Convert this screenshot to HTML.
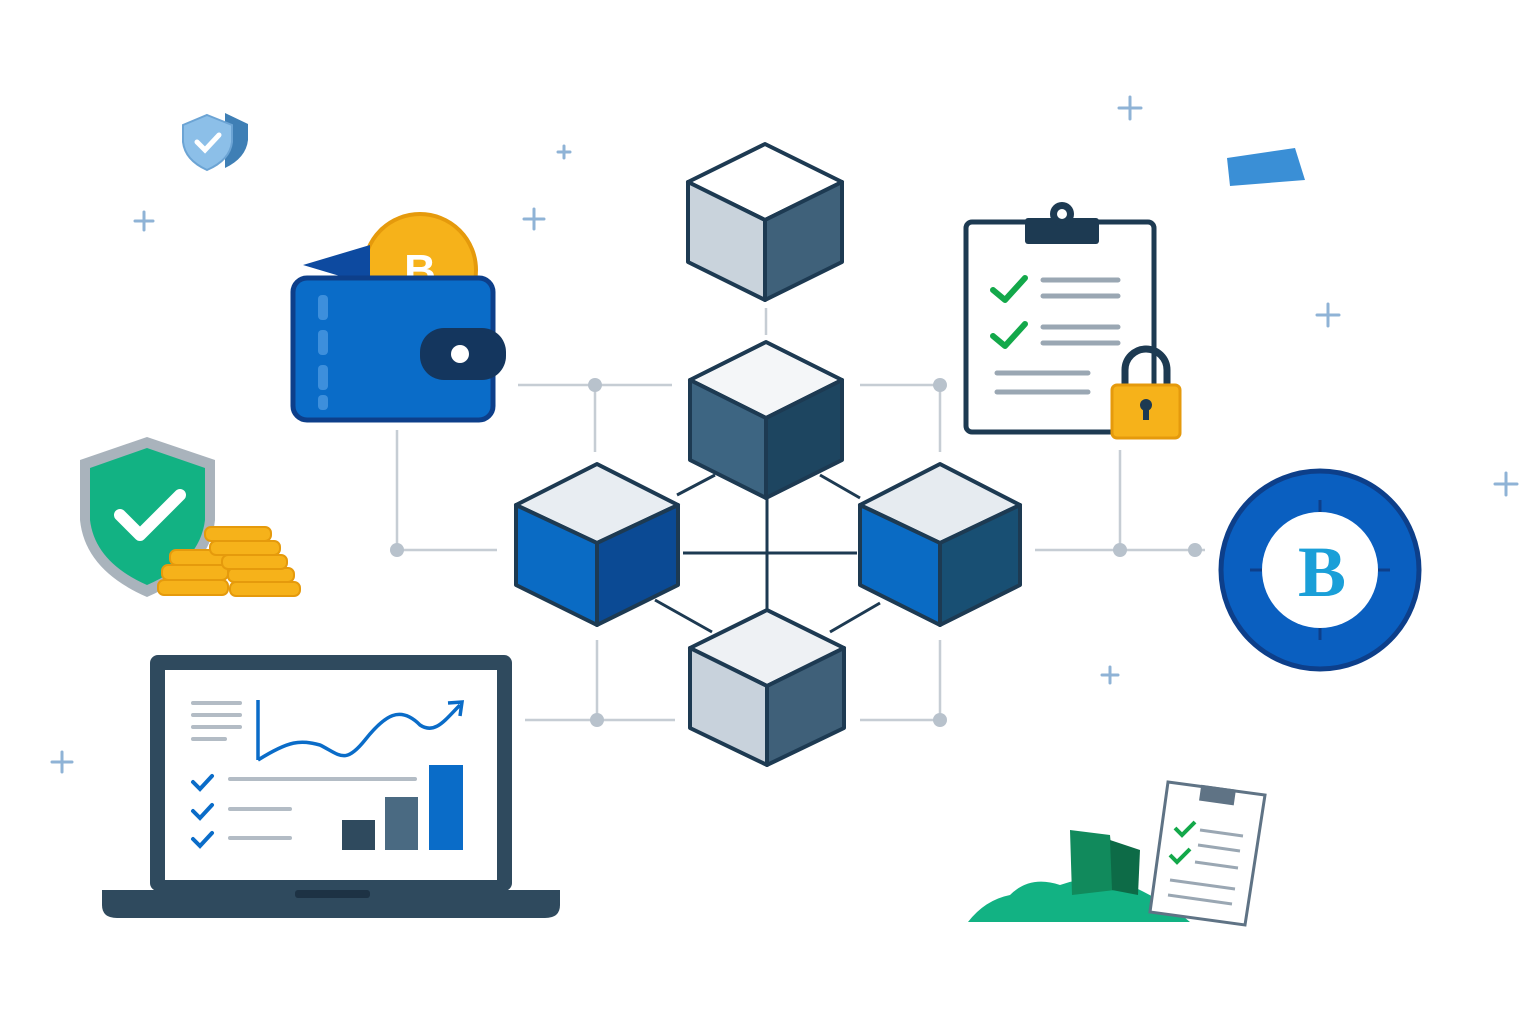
<!DOCTYPE html>
<html><head><meta charset="utf-8"><style>
html,body{margin:0;padding:0;background:#fff;}
svg{display:block;}
</style></head><body>
<svg width="1536" height="1024" viewBox="0 0 1536 1024" xmlns="http://www.w3.org/2000/svg">
<rect width="1536" height="1024" fill="#fff"/>
<!-- grid connectors -->
<g stroke="#c6cdd4" stroke-width="2.5" fill="none">
<line x1="518" y1="385" x2="672" y2="385"/><line x1="860" y1="385" x2="945" y2="385"/>
<line x1="397" y1="550" x2="497" y2="550"/><line x1="1035" y1="550" x2="1205" y2="550"/>
<line x1="525" y1="720" x2="675" y2="720"/><line x1="860" y1="720" x2="940" y2="720"/>
<line x1="595" y1="385" x2="595" y2="452"/><line x1="940" y1="385" x2="940" y2="452"/>
<line x1="397" y1="430" x2="397" y2="550"/><line x1="597" y1="640" x2="597" y2="720"/>
<line x1="940" y1="640" x2="940" y2="720"/><line x1="766" y1="308" x2="766" y2="335"/>
<line x1="1120" y1="450" x2="1120" y2="550"/>
</g>
<g fill="#b8c2cc">
<circle cx="595" cy="385" r="7"/><circle cx="940" cy="385" r="7"/><circle cx="397" cy="550" r="7"/>
<circle cx="1120" cy="550" r="7"/><circle cx="1195" cy="550" r="7"/><circle cx="597" cy="720" r="7"/><circle cx="940" cy="720" r="7"/>
</g>
<!-- inner dark links -->
<g stroke="#1d3a52" stroke-width="3">
<line x1="683" y1="553" x2="857" y2="553"/><line x1="767" y1="497" x2="767" y2="610"/>
<line x1="677" y1="495" x2="715" y2="475"/><line x1="820" y1="475" x2="860" y2="498"/>
<line x1="655" y1="600" x2="712" y2="632"/><line x1="830" y1="632" x2="880" y2="603"/>
</g>
<!-- cubes -->
<g stroke="#1d3a52" stroke-width="4" stroke-linejoin="round">
<g transform="translate(765,222)">
<path d="M-77,-40 L0,-78 L77,-40 L0,-2 Z" fill="#fff"/>
<path d="M-77,-40 L0,-2 L0,78 L-77,40 Z" fill="#c9d3dc"/>
<path d="M77,-40 L0,-2 L0,78 L77,40 Z" fill="#3f617a"/>
</g>
<g transform="translate(766,420)">
<path d="M-76,-40 L0,-78 L76,-40 L0,-2 Z" fill="#f4f6f8"/>
<path d="M-76,-40 L0,-2 L0,78 L-76,40 Z" fill="#3d6582"/>
<path d="M76,-40 L0,-2 L0,78 L76,40 Z" fill="#1d4560"/>
</g>
<g transform="translate(597,545)">
<path d="M-81,-40 L0,-81 L81,-40 L0,-2 Z" fill="#e8edf2"/>
<path d="M-81,-40 L0,-2 L0,80 L-81,40 Z" fill="#0a6bc4"/>
<path d="M81,-40 L0,-2 L0,80 L81,40 Z" fill="#0b4a94"/>
</g>
<g transform="translate(940,545)">
<path d="M-80,-40 L0,-81 L80,-40 L0,-2 Z" fill="#e6ebf0"/>
<path d="M-80,-40 L0,-2 L0,80 L-80,40 Z" fill="#0a6bc4"/>
<path d="M80,-40 L0,-2 L0,80 L80,40 Z" fill="#184f73"/>
</g>
<g transform="translate(767,688)">
<path d="M-77,-40 L0,-78 L77,-40 L0,-2 Z" fill="#eef1f4"/>
<path d="M-77,-40 L0,-2 L0,77 L-77,40 Z" fill="#c8d2dc"/>
<path d="M77,-40 L0,-2 L0,77 L77,40 Z" fill="#3f6079"/>
</g>
</g>
<!-- wallet -->
<circle cx="420" cy="270" r="56" fill="#f6b21a" stroke="#e59a0c" stroke-width="4"/>
<text x="420" y="285" text-anchor="middle" font-family="Liberation Sans,sans-serif" font-weight="bold" font-size="44" fill="#fff">B</text>
<path d="M303,265 L370,245 L370,285 Z" fill="#0d4aa0"/>
<rect x="293" y="278" width="200" height="142" rx="14" fill="#0a6cc8" stroke="#0d3f8a" stroke-width="5"/>
<g fill="#3d8fdc"><rect x="318" y="295" width="10" height="25" rx="4"/><rect x="318" y="330" width="10" height="25" rx="4"/><rect x="318" y="365" width="10" height="25" rx="4"/><rect x="318" y="395" width="10" height="15" rx="4"/></g>
<rect x="420" y="328" width="86" height="52" rx="24" fill="#14365e"/>
<circle cx="460" cy="354" r="9" fill="#fff"/>
<!-- clipboard -->
<rect x="966" y="222" width="188" height="210" rx="6" fill="#fff" stroke="#1d3a52" stroke-width="5"/>
<rect x="1025" y="218" width="74" height="26" rx="3" fill="#1d3a52"/>
<circle cx="1062" cy="214" r="12" fill="#1d3a52"/><circle cx="1062" cy="214" r="5" fill="#fff"/>
<g stroke="#13a84a" stroke-width="6" fill="none" stroke-linecap="round" stroke-linejoin="round">
<path d="M993,290 L1005,300 L1025,278"/><path d="M993,336 L1005,346 L1025,324"/></g>
<g stroke="#9aa7b3" stroke-width="5" stroke-linecap="round">
<line x1="1043" y1="280" x2="1118" y2="280"/><line x1="1043" y1="296" x2="1118" y2="296"/>
<line x1="1043" y1="327" x2="1118" y2="327"/><line x1="1043" y1="343" x2="1118" y2="343"/>
<line x1="997" y1="373" x2="1088" y2="373"/><line x1="997" y1="392" x2="1088" y2="392"/></g>
<path d="M1125,385 V370 a21,21 0 0 1 42,0 V385" fill="none" stroke="#1d3a52" stroke-width="7"/>
<rect x="1112" y="385" width="68" height="53" rx="5" fill="#f6b21a" stroke="#e59a0c" stroke-width="3"/>
<circle cx="1146" cy="405" r="6" fill="#1d3a52"/><rect x="1143" y="405" width="6" height="15" fill="#1d3a52"/>
<!-- coin right -->
<circle cx="1320" cy="570" r="99" fill="#0a5fc0" stroke="#0d3f8a" stroke-width="5"/>
<circle cx="1320" cy="570" r="58" fill="#fff"/>
<g stroke="#0d3f8a" stroke-width="3"><line x1="1320" y1="500" x2="1320" y2="512"/><line x1="1320" y1="628" x2="1320" y2="640"/><line x1="1250" y1="570" x2="1262" y2="570"/><line x1="1378" y1="570" x2="1390" y2="570"/></g>
<text x="1322" y="596" text-anchor="middle" font-family="Liberation Serif,serif" font-weight="bold" font-size="72" fill="#1a9fd8">B</text>
<!-- laptop -->
<rect x="150" y="655" width="362" height="236" rx="8" fill="#2f4a5e"/>
<rect x="165" y="670" width="332" height="210" fill="#fff"/>
<path d="M102,890 H560 V905 Q560,918 545,918 H117 Q102,918 102,905 Z" fill="#2f4a5e"/>
<rect x="295" y="890" width="75" height="8" rx="3" fill="#1d3244"/>
<g stroke="#b3bcc5" stroke-width="4" stroke-linecap="round"><line x1="193" y1="703" x2="240" y2="703"/><line x1="193" y1="715" x2="240" y2="715"/><line x1="193" y1="727" x2="240" y2="727"/><line x1="193" y1="739" x2="225" y2="739"/>
<line x1="230" y1="779" x2="415" y2="779"/><line x1="230" y1="809" x2="290" y2="809"/><line x1="230" y1="838" x2="290" y2="838"/></g>
<path d="M258,700 V760 M258,760 C290,740 300,740 320,745 C340,755 345,765 365,740 C385,715 400,705 420,725 C435,735 445,720 460,705" stroke="#0a6cc8" stroke-width="3.5" fill="none"/>
<path d="M448,703 L462,702 L460,716" stroke="#0a6cc8" stroke-width="3.5" fill="none"/>
<g stroke="#0a6cc8" stroke-width="4" fill="none" stroke-linecap="round"><path d="M193,782 L200,789 L212,776"/><path d="M193,811 L200,818 L212,805"/><path d="M193,839 L200,846 L212,833"/></g>
<rect x="342" y="820" width="33" height="30" fill="#2f4a5e"/><rect x="385" y="797" width="33" height="53" fill="#4a6a82"/><rect x="429" y="765" width="34" height="85" fill="#0a6cc8"/>
<!-- shield green -->
<path d="M147,437 L215,460 V520 Q210,570 147,597 Q85,570 80,520 V460 Z" fill="#a9b3bc"/>
<path d="M147,448 L205,468 V520 Q200,562 147,585 Q95,562 90,520 V468 Z" fill="#12b283"/>
<path d="M120,515 L140,535 L180,495" stroke="#fff" stroke-width="12" fill="none" stroke-linecap="round" stroke-linejoin="round"/>
<g fill="#f6b21a" stroke="#e59a0c" stroke-width="2">
<rect x="158" y="580" width="70" height="15" rx="6"/><rect x="162" y="565" width="66" height="15" rx="6"/><rect x="170" y="550" width="60" height="15" rx="6"/>
<rect x="230" y="582" width="70" height="14" rx="6"/><rect x="228" y="568" width="66" height="14" rx="6"/><rect x="222" y="555" width="65" height="14" rx="6"/><rect x="210" y="541" width="70" height="14" rx="6"/><rect x="205" y="527" width="66" height="14" rx="6"/></g>
<!-- small shield -->
<path d="M225,113 L248,124 V140 Q246,158 225,168 Z" fill="#3f7fb5"/>
<path d="M207,115 L232,125 V142 Q230,160 207,170 Q185,160 183,142 V125 Z" fill="#8cbfe8" stroke="#6ca4d4" stroke-width="2"/>
<path d="M197,142 L205,150 L219,135" stroke="#fff" stroke-width="5" fill="none" stroke-linecap="round"/>
<!-- blue bar -->
<path d="M1227,158 L1295,148 L1305,180 L1230,186 Z" fill="#3a8fd6"/>
<!-- bottom right -->
<path d="M968,922 Q985,900 1010,895 Q1030,875 1060,885 Q1100,870 1140,890 Q1170,905 1190,922 Z" fill="#12b283"/>
<path d="M1070,830 L1110,835 L1115,890 L1072,895 Z" fill="#118a5c"/><path d="M1110,840 L1140,850 L1138,895 L1112,890 Z" fill="#0d6b47"/>
<path d="M1168,782 L1265,795 L1245,925 L1150,912 Z" fill="#fff" stroke="#5f7385" stroke-width="3"/>
<rect x="1200" y="787" width="35" height="16" fill="#5f7385" transform="rotate(8 1217 795)"/>
<g stroke="#13a84a" stroke-width="4" fill="none"><path d="M1175,828 L1182,835 L1195,822"/><path d="M1170,855 L1177,862 L1190,849"/></g>
<g stroke="#9aa7b3" stroke-width="3"><line x1="1200" y1="830" x2="1243" y2="836"/><line x1="1198" y1="845" x2="1240" y2="851"/><line x1="1195" y1="862" x2="1238" y2="868"/><line x1="1170" y1="880" x2="1235" y2="889"/><line x1="1168" y1="895" x2="1232" y2="904"/></g>
<!-- plus signs -->
<g stroke="#8fb3d6" stroke-width="3" stroke-linecap="round">
<path d="M1130,97 v22 M1119,108 h22"/><path d="M1328,304 v22 M1317,315 h22"/><path d="M1506,473 v22 M1495,484 h22"/>
<path d="M1110,667 v16 M1102,675 h16"/><path d="M534,209 v20 M524,219 h20"/><path d="M144,212 v18 M135,221 h18"/>
<path d="M564,146 v12 M558,152 h12"/><path d="M62,752 v20 M52,762 h20"/></g>
</svg>
</body></html>
